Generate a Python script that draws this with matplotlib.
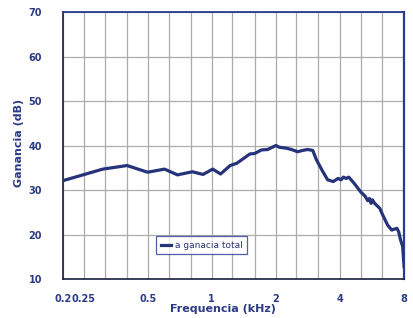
import matplotlib
matplotlib.use("Agg")
import matplotlib.pyplot as plt
from matplotlib.ticker import FixedLocator, NullLocator

# frequency (kHz) and total gain (dB)
freq = [0.2, 0.308, 0.40, 0.50, 0.60, 0.69, 0.81, 0.91, 1.01, 1.10, 1.22, 1.31,
        1.51, 1.59, 1.71, 1.83, 2.0, 2.08, 2.24, 2.37, 2.53, 2.67, 2.82, 2.98,
        3.10, 3.30, 3.50, 3.72, 3.92, 4.05, 4.15, 4.28, 4.40, 4.70, 5.00, 5.25,
        5.40, 5.50, 5.60, 5.68, 5.82, 6.15, 6.35, 6.70, 7.00, 7.40, 7.55, 7.70,
        7.88, 8.0]
gain = [32.1, 34.7, 35.5, 34.0, 34.7, 33.4, 34.1, 33.5, 34.7, 33.6, 35.5, 36.0,
        38.1, 38.2, 39.0, 39.1, 40.0, 39.6, 39.4, 39.1, 38.6, 38.9, 39.1, 38.9,
        36.8, 34.4, 32.3, 31.9, 32.6, 32.3, 32.9, 32.6, 32.9, 31.3, 29.6, 28.6,
        27.6, 28.1, 27.0, 27.8, 27.0, 25.9, 24.4, 22.1, 21.0, 21.4, 20.6, 18.8,
        17.3, 12.8]

grid_freqs = [0.2, 0.25, 0.315, 0.4, 0.5, 0.63, 0.8, 1, 1.25, 1.6, 2, 2.5,
              3.15, 4, 5, 6.3, 8]
xtick_vals = [0.2, 0.25, 0.5, 1, 2, 4, 8]
xtick_labels = ["0.2", "0.25", "0.5", "1", "2", "4", "8"]
ytick_vals = [10, 20, 30, 40, 50, 60, 70]

navy = "#26337a"
txt = "#2b3b85"

fig = plt.figure(figsize=(4.14, 3.18), dpi=100)
ax = fig.add_axes([0.152, 0.1226, 0.824, 0.8396])

ax.plot(freq, gain, color=navy, lw=2.3, label="a ganacia total", zorder=3)

ax.set_xscale("log")
ax.set_xlim(0.2, 8)
ax.set_ylim(10, 70)
ax.xaxis.set_major_locator(FixedLocator(xtick_vals))
ax.xaxis.set_minor_locator(NullLocator())
ax.set_xticklabels(xtick_labels)
ax.set_yticks(ytick_vals)

for f in grid_freqs:
    ax.axvline(f, color="#ababab", lw=0.9, zorder=1)
for v in ytick_vals:
    ax.axhline(v, color="#ababab", lw=0.9, zorder=1)

ax.tick_params(length=0, labelsize=7, labelcolor=txt)
ax.tick_params(axis="x", pad=11)
ax.tick_params(axis="y", pad=15)
for lab in ax.get_xticklabels() + ax.get_yticklabels():
    lab.set_fontweight("bold")

ax.spines["left"].set_color("#1a1f40")
ax.spines["bottom"].set_color("#1a1f40")
ax.spines["left"].set_linewidth(1.2)
ax.spines["bottom"].set_linewidth(1.2)
ax.spines["top"].set_color("#2a3a90")
ax.spines["right"].set_color("#2a3a90")
ax.spines["top"].set_linewidth(1.3)
ax.spines["right"].set_linewidth(1.6)

ax.set_xlabel("Frequencia (kHz)", fontsize=8, fontweight="bold", color=txt)
ax.xaxis.set_label_coords(0.469, -0.095)
ax.set_ylabel("Ganancia (dB)", fontsize=8, fontweight="bold", color=txt)
ax.yaxis.set_label_coords(-0.115, 0.51)

leg = ax.legend(loc="lower left", bbox_to_anchor=(0.26, 0.075), fontsize=6.5,
                frameon=True, fancybox=False, handlelength=1.2,
                handletextpad=0.4, borderpad=0.5, labelcolor="#2a3270")
leg.get_frame().set_edgecolor("#2a3a90")
leg.get_frame().set_linewidth(0.9)

fig.savefig("out.png", dpi=100)
